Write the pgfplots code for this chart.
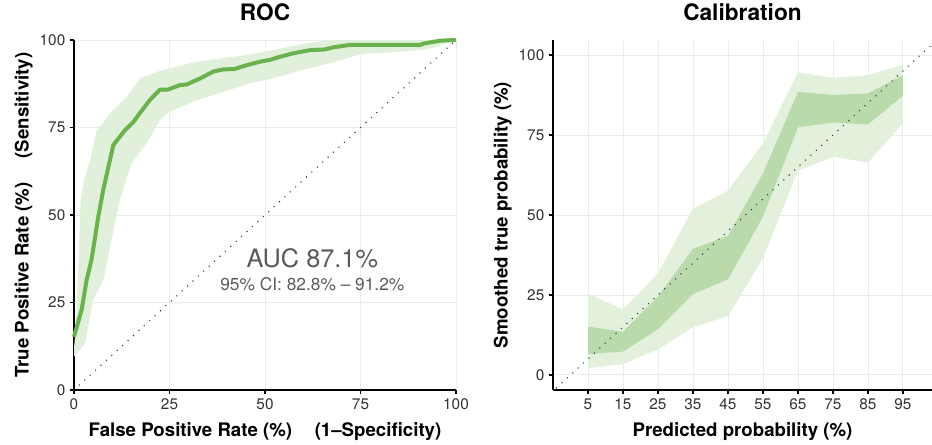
\documentclass[border=0pt]{standalone}
\usepackage{fontspec}
\setmainfont{TeX Gyre Heros}
\usepackage{pgfplots}
\usepackage{pgfplotstable}
\pgfplotsset{compat=1.18}
\usepgfplotslibrary{fillbetween}

\definecolor{rocgreen}{HTML}{6AB24E}
\definecolor{rocband}{HTML}{E1F0DA}
\definecolor{calin}{HTML}{B9DBAC}
\definecolor{calout}{HTML}{E2F0DC}
\definecolor{gridgray}{HTML}{EBEBEB}
\definecolor{txtgray}{HTML}{5A5A5A}

% ROC curve (fpr, tpr) in %
\pgfplotstableread{
x y
0 15.2
2.0 22.9
3.3 31.4
4.6 37.3
6.4 49.8
7.7 57.4
10.3 70.0
13.4 74.3
15.5 76.5
17.5 79.5
19.9 82.9
22.5 85.8
24.5 85.8
27.7 87.1
29.5 87.3
33.0 89.0
36.5 91.0
39.1 91.6
42.0 91.7
45.2 92.8
48.7 93.8
51.3 94.3
53.9 95.2
57.4 96.2
61.8 97.1
65.7 97.3
67.9 97.9
72.3 98.6
90.6 98.6
91.6 99.0
95.8 99.8
100 100
}\rocline

\pgfplotstableread{
x y
0 12.0
0.5 18.0
1.2 38.0
1.75 54.0
2.5 59.5
4.2 65.5
5.9 74.0
9.4 79.0
13.8 83.8
17.3 89.0
22.5 91.2
31.2 93.6
40.0 95.0
46.0 95.8
53.0 97.3
60.0 98.9
67.0 100
100 100
}\rocup

\pgfplotstableread{
x y
0 9.5
2.9 13.3
5.0 25.7
7.7 31.4
10.3 45.7
12.0 54.3
15.1 64.8
19.0 70.5
22.5 77.1
25.1 79.5
31.2 82.4
36.5 84.3
40.0 85.5
46.0 87.6
53.0 89.3
60.0 91.5
67.9 93.6
75.0 96.0
81.0 96.3
90.6 97.1
95.0 98.0
98.4 99.5
100 100
}\roclo

% calibration bands: x, outer low/high, inner low/high
\pgfplotstableread{
x olo ohi ilo ihi
5 2.1 25.5 6.6 15.1
15 3.4 20.5 7.3 13.5
25 8.0 31.8 14.3 24.5
35 14.9 52.0 25.3 39.4
45 18.4 57.6 29.9 43.5
55 36.5 72.4 49.5 63.0
65 63.8 94.6 77.4 88.5
75 68.2 92.9 78.9 87.5
85 66.4 93.7 78.3 88.0
95 78.6 97.0 87.3 93.7
}\calib

\pgfplotsset{panel/.style={
  scale only axis,
  axis x line*=bottom, axis y line*=left,
  axis line style={black, line width=1.3pt},
  tick align=outside, major tick length=3pt,
  tick style={black, line width=0.9pt},
  grid=major, grid style={gridgray, line width=0.7pt},
  ticklabel style={font=\fontsize{11.5}{13}\selectfont, text=black!80},
  /pgf/number format/assume math mode=true,
  title style={font=\bfseries\fontsize{17}{20}\selectfont,
    at={([yshift=8.8pt]axis description cs:0.5,1)}, anchor=base},
  xlabel style={font=\bfseries\fontsize{14}{16}\selectfont,
    at={([yshift=-35pt]axis description cs:0.5,0)}, anchor=base},
  ylabel style={font=\bfseries\fontsize{14}{16}\selectfont,
    at={([xshift=-34pt]axis description cs:0,0.5)}, anchor=base},
  diag/.style={black!75, line width=1.2pt, dash pattern=on 0pt off 5.5pt, line cap=round},
}}

\begin{document}
\begin{tikzpicture}

\begin{axis}[panel,
  at={(0pt,0pt)}, anchor=south west,
  width=286.5pt, height=262.5pt,
  xmin=0, xmax=100, ymin=0, ymax=100,
  xtick={0,25,50,75,100}, ytick={0,25,50,75,100},
  clip=false,
  title={ROC},
  xlabel={False Positive Rate (\%)\hspace{17pt}(1--Specificity)},
  ylabel={True Positive Rate (\%)\hspace{18pt}(Sensitivity)},
]
\addplot[name path=up, draw=none, forget plot] table[x=x, y=y] {\rocup};
\addplot[name path=lo, draw=none, forget plot] table[x=x, y=y] {\roclo};
\addplot[rocband, draw=none] fill between[of=up and lo];
\addplot[diag] coordinates {(0,0) (100,100)};
\addplot[rocgreen, line width=3pt, line join=round] table[x=x, y=y] {\rocline};
\node[txtgray, anchor=base, font=\fontsize{19}{22}\selectfont] at (axis cs:62.4,34.9) {AUC 87.1\%};
\node[txtgray, anchor=base, font=\fontsize{13}{15}\selectfont] at (axis cs:62.4,28.3) {95\% CI: 82.8\% -- 91.2\%};
\end{axis}

\begin{axis}[panel,
  at={(359.25pt,0pt)}, anchor=south west,
  width=284.25pt, height=262.5pt,
  xmin=-5, xmax=103.3, ymin=-4.7, ymax=104.7,
  xtick={5,15,...,95}, ytick={0,25,50,75,100},
  title={Calibration},
  xlabel={Predicted probability (\%)},
  ylabel={Smoothed true probability (\%)},
]
\addplot[name path=ohi, draw=none, forget plot] table[x=x, y=ohi] {\calib};
\addplot[name path=olo, draw=none, forget plot] table[x=x, y=olo] {\calib};
\addplot[calout, draw=none] fill between[of=ohi and olo];
\addplot[name path=ihi, draw=none, forget plot] table[x=x, y=ihi] {\calib};
\addplot[name path=ilo, draw=none, forget plot] table[x=x, y=ilo] {\calib};
\addplot[calin, draw=none] fill between[of=ihi and ilo];
\addplot[diag] coordinates {(-4,-4) (110,110)};
\end{axis}

\pgfresetboundingbox
\useasboundingbox (-55.5pt,-41.25pt) rectangle (643.5pt,292.5pt);
\end{tikzpicture}
\end{document}
